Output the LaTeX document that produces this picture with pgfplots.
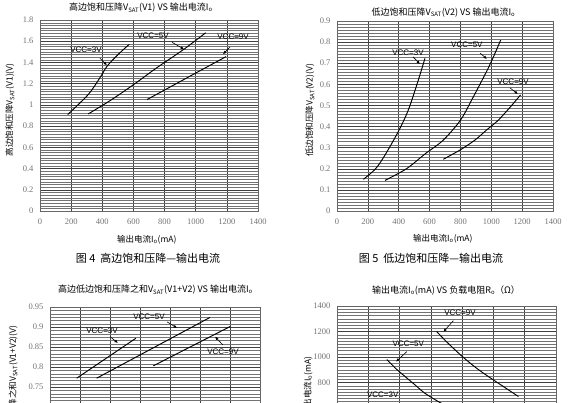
\documentclass[border=0pt]{standalone}
\usepackage{fontspec}
\setmainfont{Liberation Serif}
\newfontfamily\cjk{Noto Sans CJK SC}
\newfontfamily\lsans{Liberation Sans}
\usepackage{pgfplots}
\pgfplotsset{compat=1.18}
\usetikzlibrary{arrows.meta}

\pgfplotsset{
  panel/.style={
    scale only axis,
    axis line style={black!60, line width=0.5pt},
    grid=both,
    major grid style={black!75, line width=0.45pt},
    minor grid style={black!55, line width=0.3pt},
    tick style={draw=none},
    minor x tick num=0,
    /pgf/number format/assume math mode=true,
    /pgf/number format/1000 sep={},
    tick label style={font=\fontsize{8.5}{10}\selectfont, text=black!55},
    yticklabel style={xshift=-3pt},
    xticklabel style={yshift=-4pt},
    every axis title shift=0pt,
    title style={font=\cjk\fontsize{9}{10}\selectfont, anchor=center},
    label style={font=\cjk\fontsize{8.5}{10}\selectfont, anchor=center},
  },
  curve/.style={black, line width=0.95pt, no markers, smooth, tension=0.5},
}
\tikzset{
  vcc/.style={font=\lsans\fontsize{8}{9}\selectfont, inner sep=0.5pt},
  ptr/.style={black, line width=0.6pt, -{Latex[length=3.5pt,width=3pt]}},
}

\begin{document}
\begin{tikzpicture}
\useasboundingbox (0,0) rectangle (567pt,-402pt);
\clip (0,0) rectangle (567pt,-402pt);

% --- top left: high side drop
\begin{axis}[panel,
  at={(40pt,-20pt)}, anchor=north west, width=218pt, height=191pt,
  xmin=0, xmax=1400, xtick={0,200,400,600,800,1000,1200,1400},
  ymin=0, ymax=1.8, ytick={0,0.2,0.4,0.6,0.8,1,1.2,1.4,1.6,1.8},
  minor y tick num=7,
  title={高边饱和压降V\textsubscript{SAT}(V1) VS 输出电流I\textsubscript{o}},
  title style={at={(axis description cs:0.463,1.063)}},
  xlabel={输出电流I\textsubscript{o}(mA)},
  xlabel style={at={(axis description cs:0.49,-0.148)}},
  ylabel={高边饱和压降V\textsubscript{SAT}(V1)(V)},
  ylabel style={at={(axis description cs:-0.138,0.53)}},
]
\addplot[curve] coordinates {(178,0.909) (310,1.098) (385,1.256) (432,1.367) (503,1.477) (574,1.572)};
\addplot[curve] coordinates {(310,0.915) (450,1.04) (600,1.19) (750,1.35) (925,1.525) (1064,1.68)};
\addplot[curve] coordinates {(687,1.05) (850,1.18) (1000,1.30) (1195,1.455)};
\node[vcc] at (axis cs:295,1.515) {VCC=3V};
\draw[ptr] (axis cs:385,1.44) -- (axis cs:430,1.373);
\node[vcc] at (axis cs:726,1.65) {VCC=5V};
\draw[ptr] (axis cs:848,1.59) -- (axis cs:925,1.525);
\node[vcc] at (axis cs:1240,1.64) {VCC=9V};
\draw[ptr] (axis cs:1220,1.545) -- (axis cs:1175,1.477);
\end{axis}

% --- top right: low side drop
\begin{axis}[panel,
  at={(337pt,-21pt)}, anchor=north west, width=216pt, height=190pt,
  xmin=0, xmax=1400, xtick={0,200,400,600,800,1000,1200,1400},
  ymin=0, ymax=0.9, ytick={0,0.1,0.2,0.3,0.4,0.5,0.6,0.7,0.8,0.9},
  minor y tick num=6,
  title={低边饱和压降V\textsubscript{SAT}(V2) VS 输出电流I\textsubscript{o}},
  title style={at={(axis description cs:0.493,1.046)}},
  xlabel={输出电流I\textsubscript{o}(mA)},
  xlabel style={at={(axis description cs:0.49,-0.147)}},
  ylabel={低边饱和压降V\textsubscript{SAT}(V2)(V)},
  ylabel style={at={(axis description cs:-0.125,0.53)}},
]
\addplot[curve] coordinates {(171,0.15) (250,0.2) (311,0.265) (397,0.376) (462,0.478) (527,0.62) (570,0.723)};
\addplot[curve] coordinates {(311,0.145) (450,0.2) (570,0.27) (689,0.336) (800,0.43) (873,0.526) (985,0.684) (1061,0.81)};
\addplot[curve] coordinates {(689,0.245) (800,0.29) (894,0.336) (970,0.384) (1045,0.43) (1120,0.49) (1190,0.55)};
\node[vcc] at (axis cs:460,0.748) {VCC=3V};
\draw[ptr] (axis cs:493,0.73) -- (axis cs:538,0.696);
\node[vcc] at (axis cs:842,0.786) {VCC=5V};
\draw[ptr] (axis cs:927,0.748) -- (axis cs:972,0.72);
\node[vcc] at (axis cs:1141,0.611) {VCC=9V};
\draw[ptr] (axis cs:1121,0.583) -- (axis cs:1173,0.554);
\end{axis}

% --- captions
\node[font=\cjk\fontsize{11}{12}\selectfont] at (148pt,-258pt) {图 4 \ 高边饱和压降—输出电流};
\node[font=\cjk\fontsize{11}{12}\selectfont] at (431pt,-258pt) {图 5 \ 低边饱和压降—输出电流};

% --- bottom left: sum of drops (lower part lies below the page)
\begin{axis}[panel,
  at={(50pt,-307pt)}, anchor=north west, width=210pt, height=140pt,
  xmin=0, xmax=1400, xtick={0,200,400,600,800,1000,1200,1400},
  xticklabels={},
  ymin=0.6, ymax=0.95, ytick={0.6,0.65,0.7,0.75,0.8,0.85,0.9,0.95},
  yticklabels={,,,0.75,0.8,0.85,0.9,0.95},
  minor y tick num=5,
  title={高边低边饱和压降之和V\textsubscript{SAT}(V1+V2) VS 输出电流I\textsubscript{o}},
  title style={at={(axis description cs:0.502,1.121)}},
  ylabel={高边低边饱和压降之和V\textsubscript{SAT}(V1+V2)(V)},
  ylabel style={at={(axis description cs:-0.176,0.893)}, anchor=east},
]
\addplot[curve] coordinates {(178,0.772) (573,0.872)};
\addplot[curve] coordinates {(311,0.772) (1067,0.924)};
\addplot[curve] coordinates {(689,0.803) (1200,0.901)};
\node[vcc] at (axis cs:660,0.926) {VCC=5V};
\draw[ptr] (axis cs:780,0.913) -- (axis cs:847,0.8975);
\node[vcc] at (axis cs:347,0.89) {VCC=3V};
\draw[ptr] (axis cs:400,0.876) -- (axis cs:453,0.86);
\node[vcc] at (axis cs:1153,0.838) {VCC=9V};
\draw[ptr] (axis cs:1153,0.855) -- (axis cs:1100,0.876);
\end{axis}

% --- bottom right: current vs load (lower part lies below the page)
\begin{axis}[panel,
  at={(337pt,-306pt)}, anchor=north west, width=219pt, height=178.5pt,
  xmin=0, xmax=14, xtick={0,2,4,6,8,10,12,14},
  xticklabels={},
  ymin=0, ymax=1400, ytick={0,200,400,600,800,1000,1200,1400},
  yticklabels={,,,,800,1000,1200,1400},
  minor y tick num=7,
  title={输出电流I\textsubscript{o}(mA) VS 负载电阻R\textsubscript{o}（Ω）},
  title style={at={(axis description cs:0.498,1.084)}},
  ylabel={输出电流I\textsubscript{o}(mA)},
  ylabel style={at={(axis description cs:-0.132,0.737)}, anchor=east},
]
\addplot[curve] coordinates {(6.37,1200) (7,1120) (8,1005) (9,905) (10,820) (10.8,755) (11.6,690)};
\addplot[curve] coordinates {(3.18,980) (3.8,905) (4.35,847) (5.0,780) (5.63,715) (6.7,635) (8,560) (10,470) (12,410)};
\addplot[curve] coordinates {(1.3,560) (2,470) (3,380) (4,320) (6,250)};
\node[vcc] at (axis cs:7.86,1347) {VCC=9V};
\draw[ptr] (axis cs:7.44,1285) -- (axis cs:6.8,1198);
\node[vcc] at (axis cs:4.56,1107) {VCC=5V};
\draw[ptr] (axis cs:4.46,1042) -- (axis cs:3.77,963);
\node[vcc] at (axis cs:2.92,707) {VCC=3V};
\end{axis}
\end{tikzpicture}
\end{document}
